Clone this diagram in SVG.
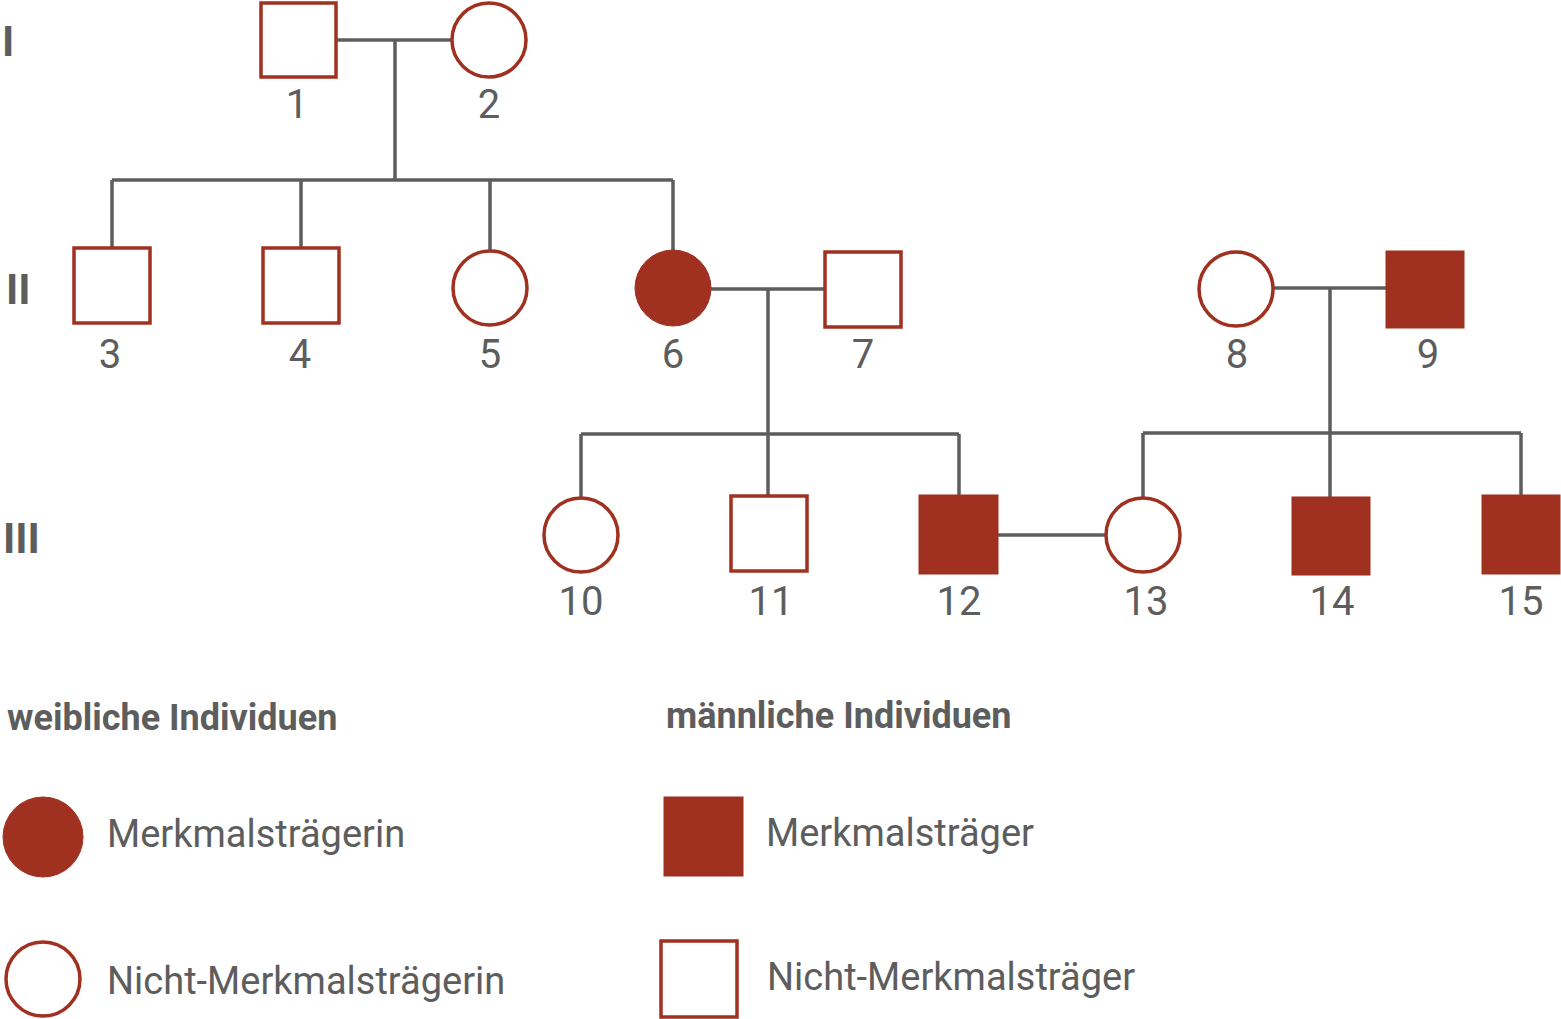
<svg xmlns="http://www.w3.org/2000/svg" width="1561" height="1019" viewBox="0 0 1561 1019">
<style>
.o{fill:#fff;stroke:#a0301f;stroke-width:3.5}
.f{fill:#a0301f;stroke:#a0301f;stroke-width:1}
.c{fill:none;stroke:#5d5d5d;stroke-width:3.5}
text{font-family:Roboto,"Liberation Sans",sans-serif;fill:#5d5d5d}
.n{font-size:40px;text-anchor:middle}
.r{font-size:42px;font-weight:bold}
.h{font-size:36px;font-weight:bold}
.l{font-size:38px}
</style>
<rect width="1561" height="1019" fill="#fff"/>
<g id="connectors">
<path class="c" d="M336 40H452M395 40V180M112 180H673M112 180V247M301 180V247M490 180V251M673 180V251"/>
<path class="c" d="M711 289H825M768 289V434M581 434H959M581 434V498M768 434V496M959 434V495"/>
<path class="c" d="M1273 288H1386M1330 288V433M1143 433H1521M1143 433V497M1330 433V497M1521 433V495"/>
<path class="c" d="M998 535H1106"/>
</g>
<g id="gen-labels"><text class="r" x="2" y="56">I</text><text class="r" x="6" y="304">II</text><text class="r" x="3" y="553">III</text></g>
<g id="n1"><rect class="o" x="261" y="3" width="75" height="74"/><text class="n" x="297" y="118">1</text></g>
<g id="n2"><circle class="o" cx="489" cy="40" r="37"/><text class="n" x="489" y="118">2</text></g>
<g id="n3"><rect class="o" x="74" y="248" width="76" height="75"/><text class="n" x="110" y="368">3</text></g>
<g id="n4"><rect class="o" x="263" y="248" width="76" height="75"/><text class="n" x="300" y="368">4</text></g>
<g id="n5"><circle class="o" cx="490" cy="288" r="37"/><text class="n" x="490" y="368">5</text></g>
<g id="n6"><circle class="f" cx="673" cy="288" r="38"/><text class="n" x="673" y="368">6</text></g>
<g id="n7"><rect class="o" x="825" y="252" width="76" height="75"/><text class="n" x="863" y="368">7</text></g>
<g id="n8"><circle class="o" cx="1236" cy="289" r="37"/><text class="n" x="1237" y="368">8</text></g>
<g id="n9"><rect class="f" x="1386" y="251" width="78" height="77"/><text class="n" x="1428" y="368">9</text></g>
<g id="n10"><circle class="o" cx="581" cy="535" r="37"/><text class="n" x="581" y="615">10</text></g>
<g id="n11"><rect class="o" x="731" y="496" width="76" height="75"/><text class="n" x="771" y="615">11</text></g>
<g id="n12"><rect class="f" x="919" y="495" width="79" height="79"/><text class="n" x="959" y="615">12</text></g>
<g id="n13"><circle class="o" cx="1143" cy="535" r="37"/><text class="n" x="1146" y="615">13</text></g>
<g id="n14"><rect class="f" x="1292" y="497" width="78" height="78"/><text class="n" x="1332" y="615">14</text></g>
<g id="n15"><rect class="f" x="1482" y="495" width="78" height="79"/><text class="n" x="1521" y="615">15</text></g>
<g id="legend">
<text class="h" x="7" y="730">weibliche Individuen</text>
<text class="h" x="666" y="728">männliche Individuen</text>
<circle class="f" cx="43" cy="837" r="40"/><text class="l" x="107" y="847">Merkmalsträgerin</text>
<circle class="o" cx="43" cy="979" r="37"/><text class="l" x="107" y="994">Nicht-Merkmalsträgerin</text>
<rect class="f" x="664" y="797" width="79" height="79"/><text class="l" x="766" y="846">Merkmalsträger</text>
<rect class="o" x="661" y="941" width="76" height="76"/><text class="l" x="767" y="990">Nicht-Merkmalsträger</text>
</g>
</svg>
